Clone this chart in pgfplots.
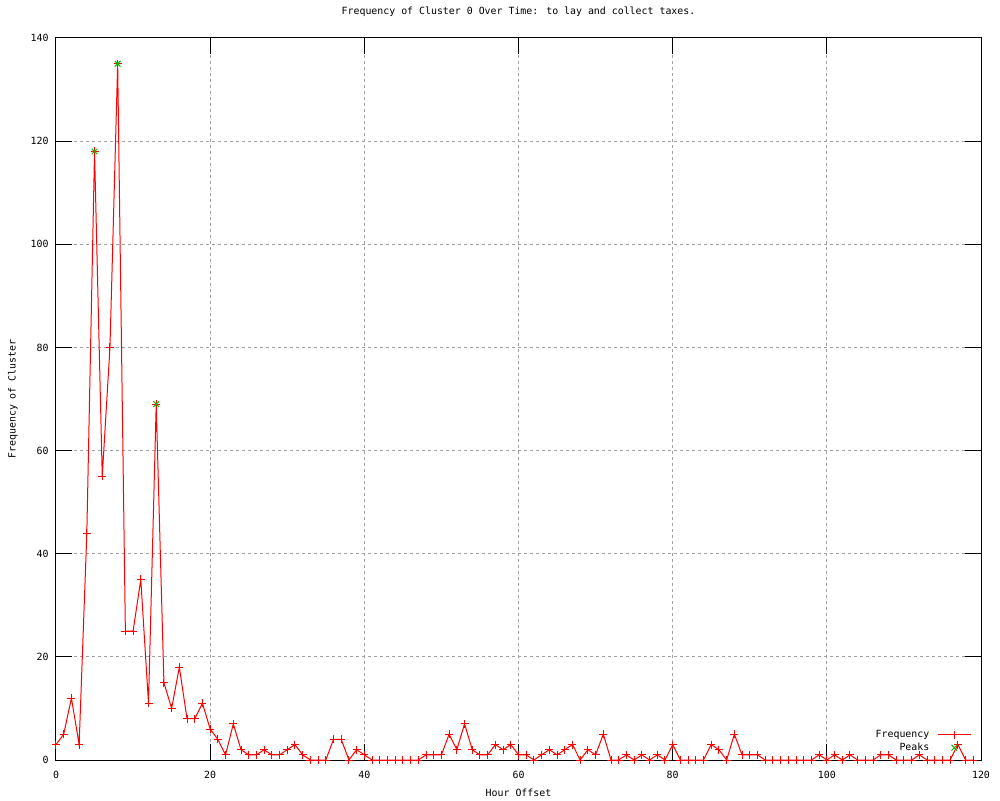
\documentclass[border=0pt]{standalone}
\usepackage{pgfplots}
\pgfplotsset{compat=1.18}
\usepackage{fontspec}
\setmainfont{DejaVu Sans Mono}
\definecolor{gpgreen}{RGB}{0,192,0}
\definecolor{gpgrid}{RGB}{160,160,160}
\begin{document}
\begin{tikzpicture}[font=\fontsize{9.9}{11.5}\selectfont]
\useasboundingbox (-56pt,-40pt) rectangle (944pt,760pt);
\begin{axis}[
  at={(0pt,0pt)}, anchor=south west,
  scale only axis, width=925pt, height=722pt,
  xmin=0, xmax=120, ymin=0, ymax=140,
  xtick distance=20, ytick distance=20,
  /pgf/number format/assume math mode=true,
  tick align=inside, major tick length=16pt,
  tick style={black, line width=1pt},
  axis line style={black, line width=1pt},
  grid=major,
  major grid style={gpgrid, line width=1pt, dash pattern=on 3pt off 3pt},
  title={Frequency of Cluster 0 Over Time: to lay and collect taxes.},
  title style={at={(axis description cs:0.5,1)}, anchor=center, yshift=20pt},
  xlabel={Hour Offset},
  xlabel style={at={(axis description cs:0.5,0)}, anchor=center, yshift=-33pt},
  ylabel={Frequency of Cluster},
  ylabel style={at={(axis description cs:-0.0465,0.5)}, anchor=center},
  xticklabel style={yshift=-8pt},
  yticklabel style={xshift=-4pt},
  legend style={at={(axis description cs:0.993,0.005)}, anchor=south east,
    draw=none, fill=none, row sep=0pt, legend cell align=right,
    cells={anchor=east}},
  legend plot pos=right,
  legend image code/.code={\path (0pt,0pt) (39pt,0pt); \draw[mark repeat=2,mark phase=2,#1] plot coordinates {(6pt,0pt) (22.5pt,0pt) (39pt,0pt)};},
]
\addplot[red, line width=1pt, mark=+, mark size=4pt, mark options={line width=1pt}] table {
x y
0 3
1 5
2 12
3 3
4 44
5 118
6 55
7 80
8 135
9 25
10 25
11 35
12 11
13 69
14 15
15 10
16 18
17 8
18 8
19 11
20 6
21 4
22 1
23 7
24 2
25 1
26 1
27 2
28 1
29 1
30 2
31 3
32 1
33 0
34 0
35 0
36 4
37 4
38 0
39 2
40 1
41 0
42 0
43 0
44 0
45 0
46 0
47 0
48 1
49 1
50 1
51 5
52 2
53 7
54 2
55 1
56 1
57 3
58 2
59 3
60 1
61 1
62 0
63 1
64 2
65 1
66 2
67 3
68 0
69 2
70 1
71 5
72 0
73 0
74 1
75 0
76 1
77 0
78 1
79 0
80 3
81 0
82 0
83 0
84 0
85 3
86 2
87 0
88 5
89 1
90 1
91 1
92 0
93 0
94 0
95 0
96 0
97 0
98 0
99 1
100 0
101 1
102 0
103 1
104 0
105 0
106 0
107 1
108 1
109 0
110 0
111 0
112 1
113 0
114 0
115 0
116 0
117 3
118 0
119 0
};
\addlegendentry{Frequency}
\addplot[gpgreen, only marks, mark=x, mark size=4pt, mark options={line width=1pt}] table {
x y
5 118
8 135
13 69
};
\addlegendentry{Peaks}
\end{axis}
\end{tikzpicture}
\end{document}
